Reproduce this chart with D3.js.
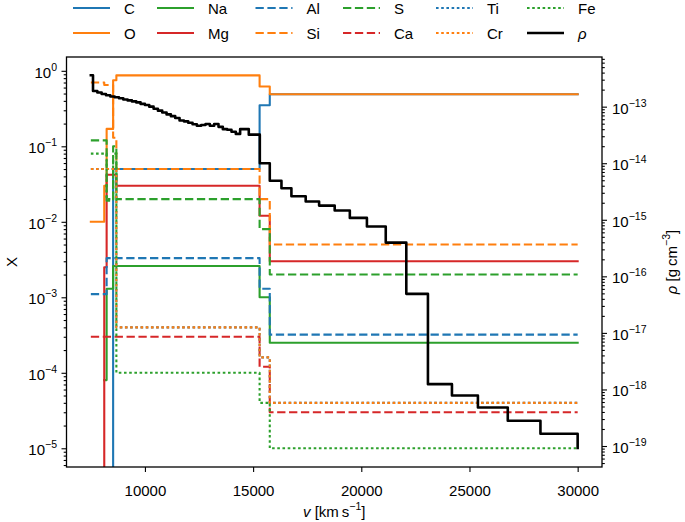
<!DOCTYPE html>
<html><head><meta charset="utf-8">
<script src="https://cdn.jsdelivr.net/npm/d3@7"></script>
<style>
body{margin:0;background:#fff}
svg text{fill:#000}
</style>
</head><body>
<svg id="chart" width="685" height="522"></svg>
<script>
// ---------------- data ----------------
const shellEdges = [7500, 8120, 8230, 8380, 8530, 8680, 15300, 15770, 30000];
const speciesNames = ["C","O","Na","Mg","Al","Si","S","Ca","Ti","Cr","Fe"];
const X_C  = [0, 0, 0, 0, 0.05, 0.05, 0.35, 0.49];
const X_O  = [0.01, 0.03, 0.17, 0.17, 0.75, 0.87, 0.62, 0.49];
const X_Na = [null, 8e-5, 0.0013, 0.0013, 0.0026, 0.0026, 0.001, 0.00025];
const X_Mg = [0, 0.0025, 0.042, 0.042, 0.042, 0.03, 0.012, 0.003];
const X_Al = [0.0011, 0.0011, 0.0033, 0.0033, 0.0033, 0.0033, 0.0013, 0.00032];
const X_Si = [0.7, 0.65, 0.65, 0.65, 0.13, 0.05, 0.02, 0.005];
const X_S  = [0.12, 0.12, 0.019, 0.019, 0.1, 0.02, 0.008, 0.002];
const X_Ca = [0.0003, 0.0003, 0.0003, 0.0003, 0.0003, 0.0003, 0.00012, 0.00003];
const X_Ti = [0.05, 0.05, 0.05, 0.05, 0.05, 0.0004, 0.00016, 0.00004];
const X_Cr = [0.05, 0.05, 0.05, 0.05, 0.05, 0.0004, 0.00016, 0.00004];
const X_Fe = [0.08, 0.08, 0.02, 0.02, 0.08, 0.0001, 0.00004, 0.00001];

const rhoVel = [7500, 7600, 7800, 8000, 8200, 8400, 8600, 8800, 9000, 9200, 9400, 9600, 9800,
  10000, 10200, 10400, 10600, 10800, 11000, 11200, 11400, 11600, 11800, 12000, 12200, 12400,
  12600, 12800, 13000, 13200, 13400, 13600, 13800, 14000, 14200, 14400, 14600, 14800, 15000,
  15200, 15310, 15770, 16310, 16770, 17430, 18050, 18770, 19470, 20260, 21130, 22080, 23080,
  24190, 25390, 26770, 28280, 30000];
const rhoVal = [3.6e-13, 1.89e-13, 1.78e-13, 1.67e-13, 1.59e-13, 1.51e-13, 1.47e-13, 1.41e-13,
  1.34e-13, 1.29e-13, 1.24e-13, 1.19e-13, 1.12e-13, 1.07e-13, 1.0e-13, 9.2e-14, 8.5e-14, 7.9e-14,
  7.3e-14, 6.8e-14, 6.3e-14, 5.7e-14, 5.5e-14, 5.2e-14, 4.9e-14, 4.6e-14, 4.75e-14, 4.95e-14,
  4.6e-14, 4.95e-14, 4.4e-14, 4.0e-14, 3.9e-14, 3.6e-14, 3.3e-14, 4.0e-14, 4.0e-14, 3.2e-14,
  3.2e-14, 3.2e-14, 1.0e-14, 4.9e-15, 3.6e-15, 2.6e-15, 2.1e-15, 1.78e-15, 1.46e-15, 1.08e-15,
  7.6e-16, 3.95e-16, 4.9e-17, 1.24e-18, 7.8e-19, 4.8e-19, 2.8e-19, 1.65e-19, 9.2e-20];

const xTicks = [10000, 15000, 20000, 25000, 30000];
const leftExps = [0, -1, -2, -3, -4, -5];
const rightExps = [-13, -14, -15, -16, -17, -18, -19];

// ---------------- styles ----------------
const FONT = "'Liberation Sans','DejaVu Sans',sans-serif";
const speciesData = [X_C, X_O, X_Na, X_Mg, X_Al, X_Si, X_S, X_Ca, X_Ti, X_Cr, X_Fe];
const colors = ["#1f77b4","#ff7f0e","#2ca02c","#d62728","#1f77b4","#ff7f0e","#2ca02c","#d62728","#1f77b4","#ff7f0e","#2ca02c"];
const dashes = [null,null,null,null,"8.3,3.6","8.3,3.6","8.3,3.6","8.3,3.6","2.6,2.6","2.6,2.6","2.6,2.6"];

const svg = d3.select("#chart");
const P = {l:66.5, r:602, t:57, b:467};
const FS = 15;
const SUP = 10.5;

const x = d3.scaleLinear().domain([6375, 31125]).range([P.l, P.r]);
const yL = d3.scaleLog().domain([Math.pow(10,-5.248), Math.pow(10,0.183)]).range([P.b, P.t]);
const yR = d3.scaleLog().domain([Math.pow(10,-19.371), Math.pow(10,-12.122)]).range([P.b, P.t]);

svg.append("defs").append("clipPath").attr("id","clip")
  .append("rect").attr("x",P.l).attr("y",P.t).attr("width",P.r-P.l).attr("height",P.b-P.t);

const plot = svg.append("g").attr("clip-path","url(#clip)");

const lineL = d3.line()
  .defined(d => d[1] !== null)
  .x(d => x(d[0]))
  .y(d => Math.min(yL(Math.max(d[1], 1e-30)), P.b + 50))
  .curve(d3.curveStepAfter);

speciesData.forEach((vals, i) => {
  const pts = vals.map((v, k) => [shellEdges[k], v]);
  pts.push([shellEdges[vals.length], vals[vals.length-1]]);
  plot.append("path").attr("d", lineL(pts))
    .attr("fill","none").attr("stroke", colors[i]).attr("stroke-width", 2.1)
    .attr("stroke-dasharray", dashes[i])
    .attr("stroke-linecap", dashes[i] ? "butt" : "square")
    .attr("stroke-linejoin","round");
});

const lineR = d3.line().x(d => x(d[0])).y(d => yR(d[1])).curve(d3.curveStepAfter);
plot.append("path").attr("d", lineR(rhoVel.map((v,i)=>[v, rhoVal[i]])))
  .attr("fill","none").attr("stroke","#000").attr("stroke-width",2.6)
  .attr("stroke-linejoin","round").attr("stroke-linecap","square");

// ---------------- axes ----------------
function minorVals(scale){
  const [a,b] = scale.domain();
  const out = [];
  for (let e = Math.floor(Math.log10(a)); e <= Math.ceil(Math.log10(b)); e++)
    for (let m = 2; m <= 9; m++){ const v = m*Math.pow(10,e); if (v>=a && v<=b) out.push(v); }
  return out;
}
function supLabel(sel, exps){
  sel.selectAll(".tick text").each(function(d,i){
    const t = d3.select(this);
    t.text(null).attr("dy", 6.5).style("font-size", FS+"px");
    t.append("tspan").text("10");
    t.append("tspan").attr("dy",-7).style("font-size",SUP+"px")
      .text(String(exps[i]).replace("-","\u2212"));
  });
}

// left
const gL = svg.append("g").attr("transform",`translate(${P.l},0)`);
gL.call(d3.axisLeft(yL).tickValues(minorVals(yL)).tickSize(2.8).tickFormat(""));
const gL2 = svg.append("g").attr("transform",`translate(${P.l},0)`);
gL2.call(d3.axisLeft(yL).tickValues(leftExps.map(e=>Math.pow(10,e))).tickSize(5).tickPadding(4.5).tickFormat(d=>d));
supLabel(gL2, leftExps);

// right
const gR = svg.append("g").attr("transform",`translate(${P.r},0)`);
gR.call(d3.axisRight(yR).tickValues(minorVals(yR)).tickSize(2.8).tickFormat(""));
const gR2 = svg.append("g").attr("transform",`translate(${P.r},0)`);
gR2.call(d3.axisRight(yR).tickValues(rightExps.map(e=>Math.pow(10,e))).tickSize(5).tickPadding(5).tickFormat(d=>d));
supLabel(gR2, rightExps);

// bottom
const gB = svg.append("g").attr("transform",`translate(0,${P.b})`);
gB.call(d3.axisBottom(x).tickValues(xTicks).tickSize(5).tickFormat(d3.format("d")));
gB.selectAll(".tick text").attr("y",28.5).attr("dy",0).style("font-size",FS+"px");

[gL,gL2,gR,gR2,gB].forEach(g=>{
  g.select(".domain").remove();
  g.selectAll(".tick line").attr("stroke","#000").attr("stroke-width",1.1);
});

svg.append("rect").attr("x",P.l).attr("y",P.t).attr("width",P.r-P.l).attr("height",P.b-P.t)
  .attr("fill","none").attr("stroke","#000").attr("stroke-width",1.3);

// axis labels
const xl = svg.append("text").attr("x",(P.l+P.r)/2).attr("y",517).attr("text-anchor","middle").style("font-size",FS+"px");
xl.append("tspan").style("font-style","italic").text("v");
xl.append("tspan").text(" [km\u2009s");
xl.append("tspan").attr("dy",-7).style("font-size",SUP+"px").text("\u22121");
xl.append("tspan").attr("dy",7).text("]");

svg.append("text").attr("transform",`translate(17,262) rotate(-90)`).attr("text-anchor","middle")
  .style("font-size",FS+"px").text("X");

const yr = svg.append("text").attr("transform",`translate(677,262) rotate(-90)`).attr("text-anchor","middle").style("font-size",FS+"px");
yr.append("tspan").style("font-style","italic").text("\u03c1");
yr.append("tspan").text(" [g\u2009cm");
yr.append("tspan").attr("dy",-7).style("font-size",SUP+"px").text("\u22123");
yr.append("tspan").attr("dy",7).text("]");

// legend (matplotlib column-major order, 2 rows)
const legendLabels = speciesNames.concat(["\u03c1"]);
const legendColors = colors.concat(["#000"]);
const legendDash = dashes.concat([null]);
const colX = [73, 157, 255.5, 343, 436, 527];
legendLabels.forEach((lab, i) => {
  const col = Math.floor(i/2), row = i%2;
  const ly = row === 0 ? 8 : 33;
  const lx = colX[col];
  svg.append("line").attr("x1",lx).attr("x2",lx+37).attr("y1",ly).attr("y2",ly)
    .attr("stroke",legendColors[i]).attr("stroke-width", i===11 ? 2.6 : 2.1)
    .attr("stroke-dasharray",legendDash[i]);
  svg.append("text").attr("x",lx+51).attr("y",ly+5.5).style("font-size",FS+"px")
    .style("font-style", i===11 ? "italic" : "normal").text(lab);
});
svg.selectAll("text").style("font-family", FONT);
</script>
</body></html>
